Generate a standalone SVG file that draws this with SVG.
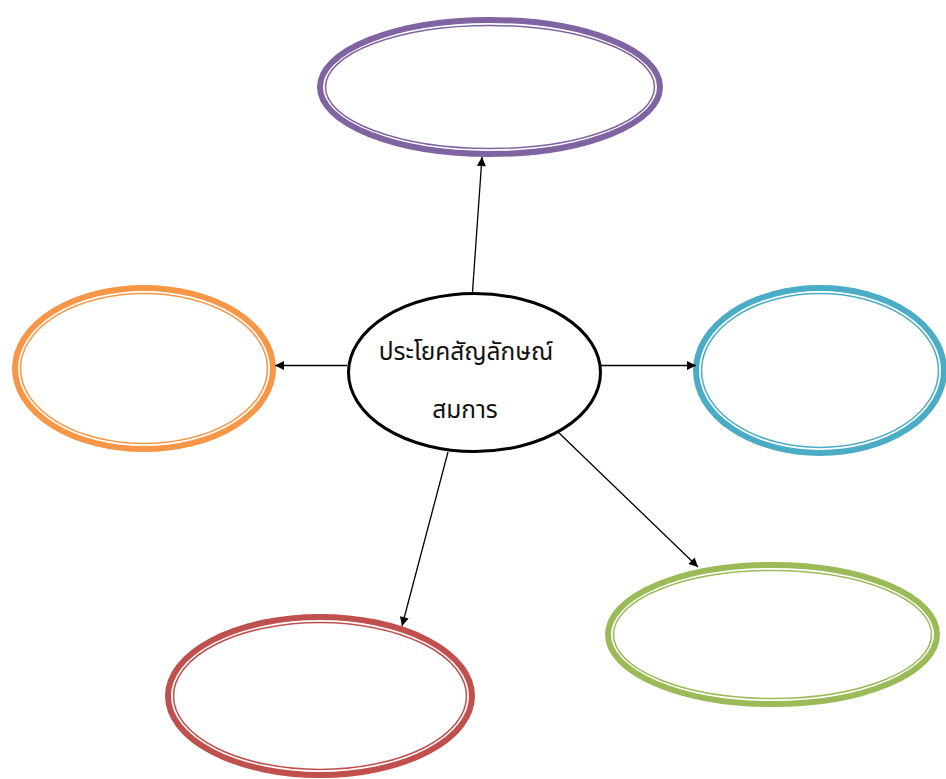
<svg xmlns="http://www.w3.org/2000/svg" width="946" height="779" viewBox="0 0 946 779">
<style>
.thick{fill:#fff;stroke-width:6}
.thin{fill:none;stroke-width:1.5}
.conn line{stroke:#000;stroke-width:1.3;marker-end:url(#ah)}
.lbl{font-family:"Noto Sans Thai","Noto Sans","DejaVu Sans",sans-serif;font-size:24.5px;fill:#111;text-anchor:middle}
</style>
<defs>
<marker id="ah" viewBox="0 0 10 10" refX="10" refY="5" markerWidth="10" markerHeight="9" markerUnits="userSpaceOnUse" orient="auto">
<path d="M0,0 L10,5 L0,10 z" fill="#000"/>
</marker>
</defs>
<rect width="946" height="779" fill="#fff"/>
<g id="top" stroke="#8064A2">
<ellipse class="thick" cx="490" cy="87" rx="170" ry="67"/>
<ellipse class="thin" cx="490" cy="87" rx="164.5" ry="61.5"/>
</g>
<g id="left" stroke="#F79646">
<ellipse class="thick" cx="144" cy="368.5" rx="129" ry="80.5"/>
<ellipse class="thin" cx="144" cy="368.5" rx="123.5" ry="75"/>
</g>
<g id="right" stroke="#4BACC6">
<ellipse class="thick" cx="820" cy="370.5" rx="124" ry="82.5"/>
<ellipse class="thin" cx="820" cy="370.5" rx="118.5" ry="77"/>
</g>
<g id="lowerright" stroke="#9BBB59">
<ellipse class="thick" cx="772.5" cy="634.5" rx="164.5" ry="69.5"/>
<ellipse class="thin" cx="772.5" cy="634.5" rx="159" ry="64"/>
</g>
<g id="lowerleft" stroke="#C0504D">
<ellipse class="thick" cx="320" cy="696" rx="152" ry="79"/>
<ellipse class="thin" cx="320" cy="696" rx="146.5" ry="73.5"/>
</g>
<g class="conn">
<line x1="472.5" y1="292" x2="482" y2="157"/>
<line x1="347" y1="365.5" x2="275" y2="365.5"/>
<line x1="601" y1="365.5" x2="696" y2="365.5"/>
<line x1="558" y1="432" x2="698" y2="567"/>
<line x1="448" y1="452" x2="402" y2="626"/>
</g>
<g id="center">
<ellipse cx="474.5" cy="372.5" rx="126" ry="79" fill="#fff" stroke="#000" stroke-width="3"/>
<text class="lbl" x="466" y="360">ประโยคสัญลักษณ์</text>
<text class="lbl" x="465" y="418">สมการ</text>
</g>
</svg>
